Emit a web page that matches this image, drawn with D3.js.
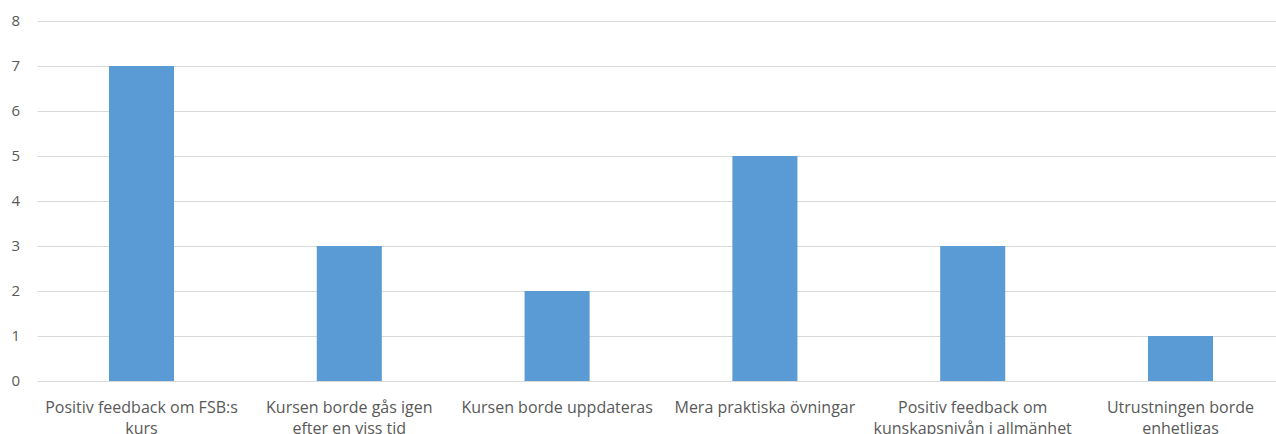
<!DOCTYPE html>
<html>
<head>
<meta charset="utf-8">
<script src="https://cdn.jsdelivr.net/npm/d3@7"></script>
<style>
  body { margin: 0; background: #fff; overflow: hidden; }
  text { font-family: "Open Sans", "Noto Sans", sans-serif; }
</style>
</head>
<body>
<div id="chart"></div>
<script>
// categories (line breaks as in the original axis labels)
var categories = [
    "Positiv feedback om FSB:s\nkurs",
    "Kursen borde gås igen\nefter en viss tid",
    "Kursen borde uppdateras",
    "Mera praktiska övningar",
    "Positiv feedback om\nkunskapsnivån i allmänhet",
    "Utrustningen borde\nenhetligas"
];
var values = [7, 3, 2, 5, 3, 1];
var yTicks = [0, 1, 2, 3, 4, 5, 6, 7, 8];

var width = 1276, height = 434;
var margin = { top: 21, left: 37.6, bottom: 53 };

var svg = d3.select("#chart")
    .append("svg")
    .attr("width", width)
    .attr("height", height);

var x = d3.scaleBand()
    .domain(categories)
    .range([margin.left, 1284.4])
    .paddingInner(0.687)
    .paddingOuter(0.3435);

var y = d3.scaleLinear()
    .domain([0, 8])
    .range([height - margin.bottom, margin.top]);

// grid lines
svg.append("g")
    .selectAll("line")
    .data(yTicks)
    .enter().append("line")
    .attr("x1", margin.left)
    .attr("x2", width)
    .attr("y1", function (d) { return Math.round(y(d)) + 0.5; })
    .attr("y2", function (d) { return Math.round(y(d)) + 0.5; })
    .attr("stroke", "#d9d9d9")
    .attr("stroke-width", 1);

// y tick labels
svg.append("g")
    .selectAll("text")
    .data(yTicks)
    .enter().append("text")
    .attr("x", 20)
    .attr("y", function (d) { return y(d); })
    .attr("dy", "0.35em")
    .attr("text-anchor", "end")
    .attr("font-size", "15px")
    .attr("fill", "#595959")
    .text(function (d) { return d; });

// bars
svg.append("g")
    .selectAll("rect")
    .data(values)
    .enter().append("rect")
    .attr("x", function (d, i) { return x(categories[i]); })
    .attr("width", x.bandwidth())
    .attr("y", function (d) { return y(d); })
    .attr("height", function (d) { return y(0) - y(d); })
    .attr("fill", "#5b9bd5");

// x labels
var labels = svg.append("g")
    .selectAll("text")
    .data(categories)
    .enter().append("text")
    .attr("x", function (d) { return x(d) + x.bandwidth() / 2; })
    .attr("y", y(0) + 32)
    .attr("text-anchor", "middle")
    .attr("font-size", "16px")
    .attr("fill", "#595959");

labels.selectAll("tspan")
    .data(function (d) { return d.split("\n"); })
    .enter().append("tspan")
    .attr("x", function () { return d3.select(this.parentNode).attr("x"); })
    .attr("dy", function (d, i) { return i === 0 ? 0 : 21; })
    .text(function (d) { return d; });
</script>
</body>
</html>
